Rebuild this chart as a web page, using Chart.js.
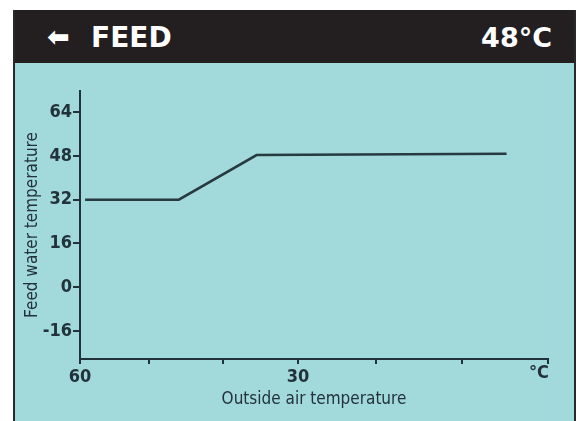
<!DOCTYPE html>
<html>
<head>
<meta charset="utf-8">
<script src="https://cdn.jsdelivr.net/npm/chart.js@4"></script>
<style>
  html, body { margin:0; padding:0; background:#ffffff; width:581px; height:421px; overflow:hidden; }
  #panel { position:absolute; left:13px; top:10px; width:559px; height:420px; background:#a2d9db;
           border-left:2px solid #27292a; border-right:2px solid #27292a; }
  #header { position:absolute; left:0; top:0; width:559px; height:53px; background:#231f20;
            color:#ffffff; font-family:'DejaVu Sans', sans-serif; font-weight:bold; }
  #arrow { position:absolute; left:32px; top:12px; font-size:27px; line-height:30px; }
  #title { position:absolute; left:76px; top:12px; font-size:28px; line-height:32px; }
  #value { position:absolute; right:22px; top:12px; font-size:27px; line-height:32px; }
  canvas { position:absolute; left:0; top:0; }
</style>
</head>
<body>
<div id="panel">
  <div id="header"><span id="arrow">⬅</span><span id="title">FEED</span><span id="value">48°C</span></div>
</div>
<canvas id="c" width="581" height="421"></canvas>
<script>
// ---- data ----
const outsideTemp = [59.3, 46.4, 35.7, 1.3];      // x values (°C, outside air)
const feedTemp    = [32, 32, 48.3, 48.8];         // y values (°C, feed water)
const xTickValues = [60, 50.5, 40.3, 30, 19.3, 7.5, -4.4];
const xTickLabels = ['60', '', '', '30', '', '', ''];
const xUnitLabel  = '°C';
const yTickValues = [-16, 0, 16, 32, 48, 64];
const yTickLabels = ['-16', '0', '16', '32', '48', '64'];
const xTitle = 'Outside air temperature';
const yTitle = 'Feed water temperature';

const ink = '#22323a';
const fam = "'DejaVu Sans Condensed', 'DejaVu Sans', sans-serif";

const points = outsideTemp.map((x, i) => ({ x: x, y: feedTemp[i] }));

// draws the unit label just left of the last x tick
const unitLabel = {
  id: 'unitLabel',
  afterDraw(chart) {
    const s = chart.scales.x;
    const ctx = chart.ctx;
    const px = s.getPixelForValue(xTickValues[xTickValues.length - 1]);
    ctx.save();
    ctx.fillStyle = ink;
    ctx.font = 'bold 18px ' + fam;
    ctx.textAlign = 'center';
    ctx.textBaseline = 'middle';
    ctx.fillText(xUnitLabel, px - 9, s.top + 14);
    ctx.restore();
  }
};

new Chart(document.getElementById('c'), {
  type: 'line',
  data: {
    datasets: [{
      data: points,
      borderColor: '#263a40',
      borderWidth: 2.5,
      pointRadius: 0,
      tension: 0,
      fill: false
    }]
  },
  plugins: [unitLabel],
  options: {
    responsive: false,
    animation: false,
    plugins: { legend: { display: false }, tooltip: { enabled: false } },
    layout: { padding: { top: 91, right: 33, left: 0, bottom: 0 } },
    scales: {
      x: {
        type: 'linear',
        reverse: true,
        min: -4.4,
        max: 60,
        afterFit: (s) => { s.height = 62; },
        afterBuildTicks: (s) => { s.ticks = xTickValues.map(v => ({ value: v })); },
        border: { display: true, color: ink, width: 2 },
        grid: { drawOnChartArea: false, drawTicks: true, tickLength: 5, color: ink, lineWidth: 2 },
        ticks: {
          autoSkip: false, maxRotation: 0, minRotation: 0, padding: 3,
          color: ink, font: { family: fam, size: 18, weight: 'bold' },
          callback: (v, i) => xTickLabels[i]
        },
        title: { display: true, text: xTitle, color: ink, font: { family: fam, size: 17 }, padding: { top: 0, bottom: 11 } }
      },
      y: {
        type: 'linear',
        min: -26.2,
        max: 71.7,
        afterFit: (s) => { s.width = 80; },
        afterBuildTicks: (s) => { s.ticks = yTickValues.map(v => ({ value: v })); },
        border: { display: true, color: ink, width: 2 },
        grid: { drawOnChartArea: false, drawTicks: true, tickLength: 7, color: ink, lineWidth: 2 },
        ticks: {
          autoSkip: false, padding: 1,
          color: ink, font: { family: fam, size: 18, weight: 'bold' },
          callback: (v, i) => yTickLabels[i]
        },
        title: { display: true, text: yTitle, color: ink, font: { family: fam, size: 17 }, padding: { top: 22, bottom: 0 } }
      }
    }
  }
});
</script>
</body>
</html>
